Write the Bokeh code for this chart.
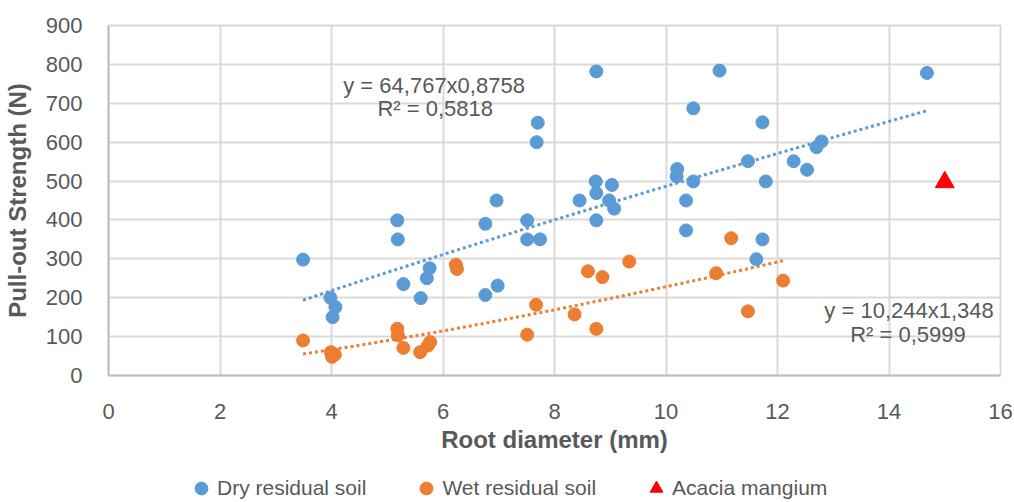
import numpy as np
from bokeh.plotting import figure
from bokeh.layouts import column
from bokeh.models import Range1d, FixedTicker, Label, Legend, LegendItem
from bokeh.embed import file_html
from bokeh.resources import INLINE

# ---- data ----
dry_x = [3.49, 3.98, 4.07, 4.02, 5.18, 5.19, 5.29, 5.60, 5.71, 5.76, 6.76, 6.96, 6.76, 6.98,
         7.51, 7.51, 7.74, 7.70, 7.68, 8.45, 8.75, 8.74, 8.75, 8.75, 9.03, 8.98, 9.07,
         10.20, 10.19, 10.49, 10.36, 10.36, 10.49, 10.96, 11.47, 11.73, 11.79, 11.73, 11.62,
         12.29, 12.53, 12.70, 12.79, 14.68]
dry_y = [298, 200, 176, 150, 399, 350, 235, 199, 250, 276, 390, 450, 207, 231,
         399, 350, 350, 650, 600, 450, 782, 499, 469, 399, 490, 450, 429,
         531, 512, 499, 450, 373, 687, 784, 551, 651, 499, 350, 299,
         551, 529, 587, 602, 778]

wet_x = [3.49, 3.99, 4.01, 4.06, 5.18, 5.19, 5.29, 5.59, 5.73, 5.77, 6.23, 6.25, 7.51, 7.67,
         8.36, 8.60, 8.86, 8.75, 9.34, 10.90, 11.17, 11.47, 12.10]
wet_y = [90, 60, 48, 54, 120, 103, 71, 60, 77, 86, 285, 274, 105, 182,
         157, 268, 253, 120, 293, 263, 353, 165, 244]

acacia_x = [15.0]
acacia_y = [497]

# trendline coefficients shown on the chart (power fits)
dry_a, dry_b = 64.767, 0.8758
wet_a, wet_b = 10.244, 1.348
dry_eq = ["y = 64,767x0,8758", "R² = 0,5818"]
wet_eq = ["y = 10,244x1,348", "R² = 0,5999"]

series_names = ["Dry residual soil", "Wet residual soil", "Acacia mangium"]

x_ticks = list(range(0, 17, 2))
y_ticks = list(range(0, 901, 100))

BLUE = "#5B9BD5"
ORANGE = "#ED7D31"
RED = "#FF0000"
GREY_TXT = "#595959"
GRID = "#D9D9D9"
FONT = "Liberation Sans"

p = figure(width=1014, height=456, output_backend="svg", toolbar_location=None,
           x_range=Range1d(0, 16), y_range=Range1d(0, 900),
           min_border_left=103, min_border_right=14, min_border_top=25, min_border_bottom=81)
p.background_fill_color = "white"
p.border_fill_color = "white"
p.outline_line_color = GRID
p.outline_line_width = 2

for ax, ticks in ((p.xaxis[0], x_ticks), (p.yaxis[0], y_ticks)):
    ax.ticker = FixedTicker(ticks=ticks)
    ax.major_tick_line_color = None
    ax.minor_tick_line_color = None
    ax.axis_line_color = "#BFBFBF"
    ax.axis_line_width = 2
    ax.major_label_text_font = FONT
    ax.major_label_text_font_size = "22px"
    ax.major_label_text_color = GREY_TXT
    ax.axis_label_text_font = FONT
    ax.axis_label_text_font_size = "24px"
    ax.axis_label_text_font_style = "bold"
    ax.axis_label_text_color = GREY_TXT

p.xaxis.axis_label = "Root diameter (mm)"
p.yaxis.axis_label = "Pull-out Strength (N)"
p.xaxis.major_label_standoff = 22
p.xaxis.axis_label_standoff = 4
p.yaxis.major_label_standoff = 20
p.yaxis.axis_label_standoff = 12

p.xgrid.ticker = FixedTicker(ticks=x_ticks)
p.ygrid.ticker = FixedTicker(ticks=y_ticks)
p.grid.grid_line_color = GRID
p.grid.grid_line_width = 2

# trendlines
dx = np.linspace(min(dry_x), max(dry_x), 60)
wx = np.linspace(min(wet_x), max(wet_x), 60)
p.line(dx, dry_a * dx ** dry_b, line_color=BLUE, line_width=3, line_dash="3 3")
p.line(wx, wet_a * wx ** wet_b, line_color=ORANGE, line_width=3, line_dash="3 3")

p.scatter(dry_x, dry_y, marker="circle", size=13, fill_color=BLUE, line_color=BLUE)
p.scatter(wet_x, wet_y, marker="circle", size=13, fill_color=ORANGE, line_color=ORANGE)
p.scatter(acacia_x, acacia_y, marker="triangle", size=19, fill_color=RED, line_color=RED)

# equation labels
for (tx, ty), t in zip([(5.84, 746), (5.86, 687)], dry_eq):
    p.add_layout(Label(x=tx, y=ty, text=t, text_align="center", text_baseline="middle",
                       text_font=FONT, text_font_size="22px", text_color=GREY_TXT))
for (tx, ty), t in zip([(14.36, 167), (14.34, 105)], wet_eq):
    p.add_layout(Label(x=tx, y=ty, text=t, text_align="center", text_baseline="middle",
                       text_font=FONT, text_font_size="22px", text_color=GREY_TXT))

# legend strip below the chart (its frame is aligned with the main frame)
lg = figure(width=1014, height=46, output_backend="svg", toolbar_location=None,
            x_axis_location=None, y_axis_location=None,
            x_range=Range1d(0, 1), y_range=Range1d(0, 1),
            min_border=0, outline_line_color=None)
lg.grid.visible = False
lg.border_fill_color = "white"
# one series point each (outside this strip's ranges, so only the legend glyph shows)
l_dry = lg.scatter(dry_x[:1], dry_y[:1], marker="circle", fill_color=BLUE, line_color=BLUE)
l_wet = lg.scatter(wet_x[:1], wet_y[:1], marker="circle", fill_color=ORANGE, line_color=ORANGE)
l_ac = lg.scatter(acacia_x, acacia_y, marker="triangle", fill_color=RED, line_color=RED)

legend = Legend(items=[LegendItem(label=n, renderers=[r])
                       for n, r in zip(series_names, [l_dry, l_wet, l_ac])],
                orientation="horizontal", location=(77, -3),
                glyph_width=32, glyph_height=34, label_standoff=0, spacing=44,
                padding=0, margin=0, border_line_alpha=0, background_fill_alpha=0,
                label_text_font=FONT, label_text_font_size="21px", label_text_color=GREY_TXT)
lg.add_layout(legend)

layout = column(p, lg, spacing=0)
open("out.html", "w").write(file_html(layout, INLINE))
